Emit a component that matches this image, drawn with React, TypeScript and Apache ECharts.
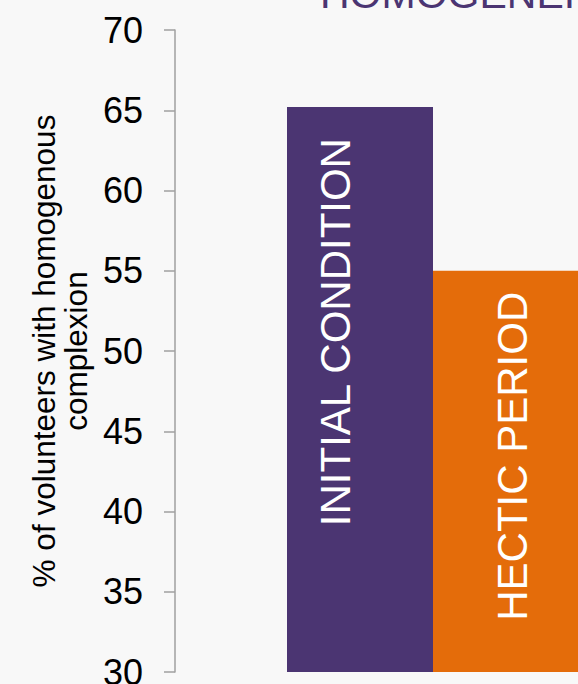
import React, { useEffect, useRef } from "react";
import * as echarts from "echarts";

const categories = [""];
const seriesNames = ["INITIAL CONDITION", "HECTIC PERIOD"];
const seriesValues = [65.2, 55.0];
const seriesColors = ["#4b3572", "#e46c0a"];
const yTicks = { min: 30, max: 70, interval: 5 };
const yAxisName = "% of volunteers with homogenous\ncomplexion";
const titleText = "HOMOGENEITY";

const FONT = "'Liberation Sans', Arial, sans-serif";

export default function App() {
  const ref = useRef<HTMLDivElement>(null);
  useEffect(() => {
    if (!ref.current) return;
    const chart = echarts.init(ref.current, undefined, { renderer: "svg" });
    const labelPos: [number, number][] = [
      [48, 31],
      [79, 21],
    ];
    chart.setOption({
      animation: false,
      backgroundColor: "#f8f8f8",
      textStyle: { fontFamily: FONT },
      graphic: [
        {
          type: "text",
          x: 320,
          y: -6,
          style: {
            text: titleText,
            fill: "#4b3572",
            font: `41px ${FONT}`,
            align: "left",
            verticalAlign: "middle",
          },
        },
      ],
      grid: {
        left: 175,
        right: -113,
        top: 30,
        bottom: 12,
        containLabel: false,
        outerBoundsMode: "none",
      },
      xAxis: {
        type: "category",
        data: categories,
        axisLine: { show: false },
        axisTick: { show: false },
        axisLabel: { show: false },
        splitLine: { show: false },
      },
      yAxis: {
        type: "value",
        min: yTicks.min,
        max: yTicks.max,
        interval: yTicks.interval,
        name: yAxisName,
        nameLocation: "middle",
        nameRotate: 90,
        nameGap: 101,
        nameTextStyle: {
          fontSize: 31.5,
          lineHeight: 32,
          color: "#000",
          fontFamily: FONT,
          align: "center",
          verticalAlign: "middle",
        },
        axisLine: { show: true, lineStyle: { color: "#a0a0a0", width: 1.5 } },
        axisTick: { show: true, length: 11, lineStyle: { color: "#a0a0a0", width: 1.5 } },
        axisLabel: { fontSize: 36, color: "#000", margin: 32, fontFamily: FONT },
        splitLine: { show: false },
      },
      series: seriesNames.map((name, i) => ({
        type: "bar",
        name,
        barWidth: 146,
        barGap: "0%",
        data: [seriesValues[i]],
        itemStyle: { color: seriesColors[i] },
        label: {
          show: true,
          formatter: name,
          position: labelPos[i],
          rotate: 90,
          align: "right",
          verticalAlign: "middle",
          color: "#fff",
          fontSize: 42,
          fontFamily: FONT,
        },
      })),
    });
    return () => chart.dispose();
  }, []);
  return <div ref={ref} style={{ width: 578, height: 684, position: "absolute", left: 0, top: 0 }} />;
}
